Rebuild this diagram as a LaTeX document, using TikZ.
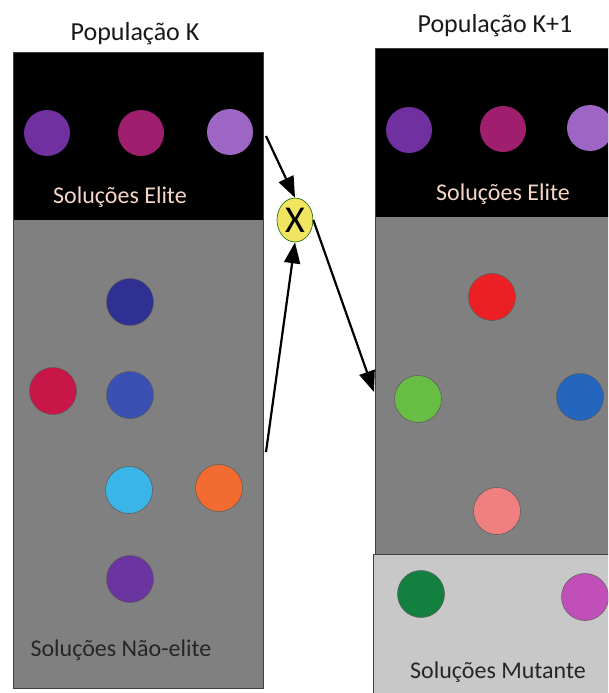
\documentclass[tikz,border=0pt]{standalone}
\usepackage{fontspec}
\setmainfont{Carlito}
\usepackage{xcolor}
\usepackage{tikz}
\usetikzlibrary{arrows.meta, shapes.geometric}

\definecolor{cinzaPop}{RGB}{128,128,128}
\definecolor{cinzaMut}{RGB}{200,200,200}
\definecolor{txtElite}{RGB}{246,214,198}
\definecolor{amareloX}{RGB}{240,228,96}
% cores das soluções
\definecolor{roxoA}{RGB}{112,48,160}
\definecolor{magentaA}{RGB}{160,30,110}
\definecolor{lilasA}{RGB}{158,102,196}
\definecolor{azulEsc}{RGB}{46,49,146}
\definecolor{carmim}{RGB}{200,22,72}
\definecolor{azulMed}{RGB}{58,80,178}
\definecolor{ciano}{RGB}{59,181,232}
\definecolor{laranja}{RGB}{242,107,48}
\definecolor{roxoB}{RGB}{106,53,160}
\definecolor{vermelho}{RGB}{236,32,36}
\definecolor{verdeCl}{RGB}{104,190,68}
\definecolor{azulCl}{RGB}{36,102,190}
\definecolor{rosa}{RGB}{240,128,128}
\definecolor{verdeEsc}{RGB}{20,128,64}
\definecolor{magentaB}{RGB}{192,80,184}

\tikzset{
    sol/.style={circle, minimum size=47pt, inner sep=0pt, draw=black!65, line width=0.5pt, fill=#1},
    solElite/.style={circle, minimum size=46pt, inner sep=0pt, fill=#1},
    seta/.style={-{Triangle[length=21pt, width=16pt]}, line width=2.2pt},
    rotulo/.style={font=\fontsize{24}{28}\selectfont},
    titulo/.style={font=\fontsize{26}{30}\selectfont, text=black!90}
}

\begin{document}
\begin{tikzpicture}[x=1pt, y=-1pt]
    \useasboundingbox (0,0) rectangle (608,693);
    \clip (0,0) rectangle (608,693);

    % 1. População K (painel esquerdo)
    \fill[black] (13,52) rectangle (263,220);
    \fill[cinzaPop] (13,220) rectangle (263,688);
    \draw[black!75, line width=0.8pt] (13,52) rectangle (263,688);
    \node[titulo] (tituloK) at (135,34) {População K};

    \node[solElite=roxoA] (eliteK1) at (47,133) {};
    \node[solElite=magentaA] (eliteK2) at (141,133) {};
    \node[solElite=lilasA] (eliteK3) at (230,132) {};
    \node[rotulo, text=txtElite] (eliteTxtK) at (120,197) {Soluções Elite};

    \node[sol=azulEsc] (solK1) at (130,302) {};
    \node[sol=carmim] (solK2) at (53,391) {};
    \node[sol=azulMed] (solK3) at (130,395) {};
    \node[sol=ciano] (solK4) at (129,490) {};
    \node[sol=laranja] (solK5) at (219,488) {};
    \node[sol=roxoB] (solK6) at (130,579) {};
    \node[rotulo, text=black!85] (naoEliteTxt) at (121,650) {Soluções Não-elite};

    % 2. População K+1 (painel direito)
    \fill[black] (375,48) rectangle (620,217);
    \fill[cinzaPop] (375,217) rectangle (620,554);
    \fill[cinzaMut] (373,554) rectangle (620,700);
    \draw[black!75, line width=0.8pt] (620,48) -- (375,48) -- (375,554);
    \draw[black!75, line width=0.8pt] (620,554) -- (373,554) -- (373,700);
    \node[titulo] (tituloK1) at (495,26) {População K+1};

    \node[solElite=roxoA] (eliteN1) at (409,130) {};
    \node[solElite=magentaA] (eliteN2) at (503,129) {};
    \node[solElite=lilasA] (eliteN3) at (590,128) {};
    \node[rotulo, text=txtElite] (eliteTxtN) at (503,194) {Soluções Elite};

    \node[sol=vermelho] (solN1) at (492,297) {};
    \node[sol=verdeCl] (solN2) at (418,399) {};
    \node[sol=azulCl] (solN3) at (580,397) {};
    \node[sol=rosa] (solN4) at (497,511) {};

    \node[sol=verdeEsc] (mutN1) at (421,594) {};
    \node[sol=magentaB] (mutN2) at (585,597) {};
    \node[rotulo, text=black!85] (mutTxt) at (498,672) {Soluções Mutante};

    % 3. Cruzamento
    \node[ellipse, minimum width=36pt, minimum height=44pt, inner sep=0pt,
          fill=amareloX, draw=black!60!green, line width=0.6pt,
          font=\fontsize{38}{38}\selectfont] (cruz) at (295,220) {X};
    \coordinate (iniA) at (266,136);
    \coordinate (iniB) at (266,452);
    \coordinate (fimC) at (374,392);

    \draw[seta] (iniA) -- (cruz.north);
    \draw[seta] (iniB) -- (cruz.south);
    \draw[seta] (cruz.east) -- (fimC);
\end{tikzpicture}
\end{document}
